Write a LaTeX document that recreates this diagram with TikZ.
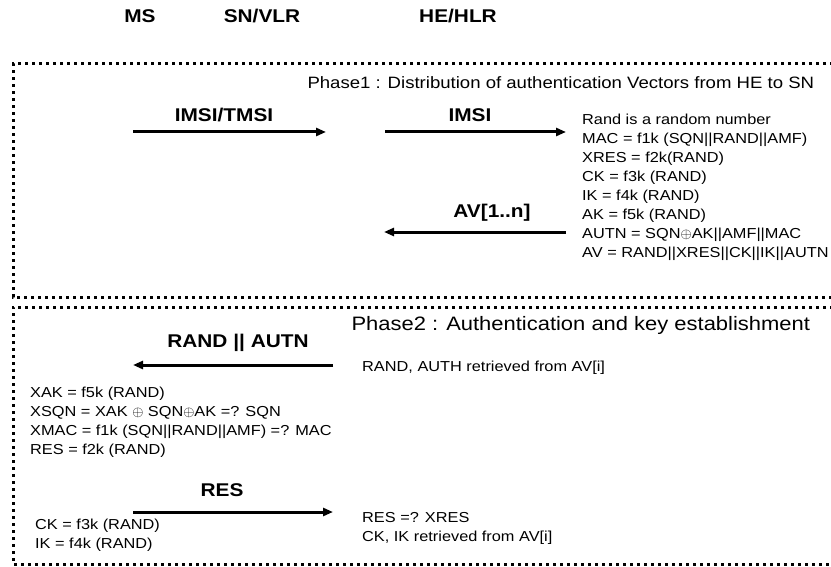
\documentclass[tikz,border=0pt]{standalone}
\usepackage{fontspec}
\setmainfont[FakeStretch=1.13]{Liberation Sans}
\usepackage{tikz}
\usetikzlibrary{arrows.meta, positioning}

\tikzset{
  entity/.style={font=\fontsize{18.5}{20}\selectfont\bfseries},
  msglabel/.style={font=\fontsize{18.5}{20}\selectfont\bfseries},
  phase/.style={font=\fontsize{16.5}{18}\selectfont, anchor=west},
  calc/.style={font=\fontsize{14.5}{19}\selectfont, align=left, anchor=west, inner sep=0pt},
  msg/.style={line width=3bp, -{Triangle[length=10bp,width=8bp]}},
  phasebox/.style={line width=3bp, dash pattern=on 3bp off 4bp}
}

\begin{document}
\begin{tikzpicture}[x=1bp, y=-1bp]
\useasboundingbox (0,0) rectangle (831,567);
% entities
\node[entity] (ms) at (140,16) {MS};
\node[entity] (sn) at (262,16) {SN/VLR};
\node[entity] (he) at (458,16) {HE/HLR};
% phase boxes
\draw[phasebox] (840,64) -- (13,64) -- (13,297) -- (840,297);
\draw[phasebox] (840,307) -- (13,307) -- (13,564) -- (840,564);
% phase 1
\node[phase] (p1) at (304,83) {Phase1 : Distribution of authentication Vectors from HE to SN};
\coordinate (a1s) at (133,132);
\coordinate (a1e) at (326,132);
\draw[msg] (a1s) -- (a1e);
\node[msglabel] (l1) at (224,115) {IMSI/TMSI};
\coordinate (a2s) at (385,132);
\coordinate (a2e) at (566,132);
\draw[msg] (a2s) -- (a2e);
\node[msglabel] (l2) at (470,115) {IMSI};
\node[calc, anchor=north west] (hecalc) at (582,114) {Rand is a random number\\
  MAC = f1k (SQN||RAND||AMF)\\
  XRES = f2k(RAND)\\
  CK = f3k (RAND)\\
  IK = f4k (RAND)\\
  AK = f5k (RAND)\\
  AUTN = SQN$\oplus$AK||AMF||MAC\\
  AV = RAND||XRES||CK||IK||AUTN};
\coordinate (a3s) at (566,232);
\coordinate (a3e) at (384,232);
\draw[msg] (a3s) -- (a3e);
\node[msglabel] (l3) at (492,213) {AV[1..n]};
% phase 2
\node[phase, font=\fontsize{19.5}{21}\selectfont] (p2) at (348,325) {Phase2 : Authentication and key establishment};
\coordinate (a4s) at (333,365);
\coordinate (a4e) at (133,365);
\draw[msg] (a4s) -- (a4e);
\node[msglabel] (l4) at (238,343) {RAND || AUTN};
\node[calc] (sncalc) at (362,368) {RAND, AUTH retrieved from AV[i]};
\node[calc, anchor=north west] (mscalc) at (30,387) {XAK = f5k (RAND)\\
  XSQN = XAK $\oplus$ SQN$\oplus$AK =? SQN\\
  XMAC = f1k (SQN||RAND||AMF) =? MAC\\
  RES = f2k (RAND)};
\coordinate (a5s) at (133,512);
\coordinate (a5e) at (333,512);
\draw[msg] (a5s) -- (a5e);
\node[msglabel] (l5) at (222,490) {RES};
\node[calc, anchor=north west] (mskeys) at (35,519) {CK = f3k (RAND)\\IK = f4k (RAND)};
\node[calc, anchor=north west] (sncheck) at (362,512) {RES =? XRES\\CK, IK retrieved from AV[i]};
\end{tikzpicture}
\end{document}
